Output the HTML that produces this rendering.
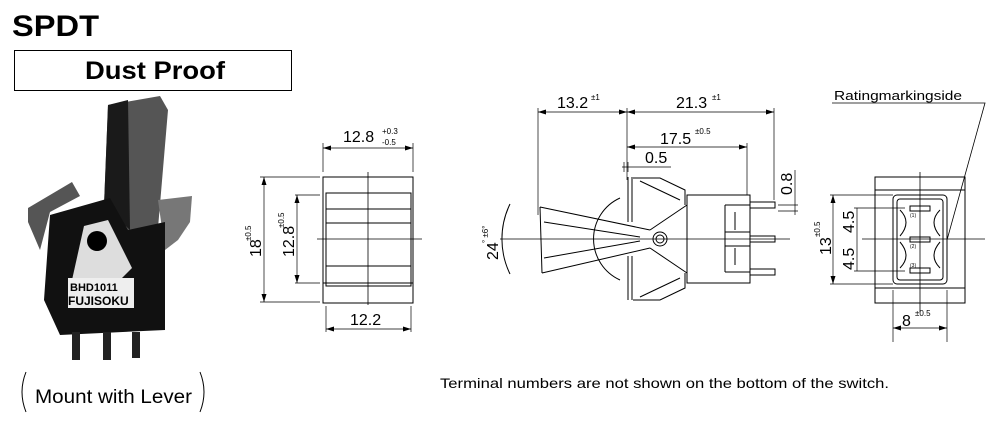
<!DOCTYPE html>
<html><head><meta charset="utf-8"><style>
html,body{margin:0;padding:0;background:#fff;}
svg{display:block;font-family:"Liberation Sans",Arial,sans-serif;}
</style></head><body>
<svg width="994" height="424" viewBox="0 0 994 424" xmlns="http://www.w3.org/2000/svg">
<defs>
<marker id="a" markerWidth="8" markerHeight="6" refX="8" refY="3" orient="auto-start-reverse" markerUnits="userSpaceOnUse"><path d="M0,0.5 L8,3 L0,5.5 z" fill="#000"/></marker>
</defs>
<text x="12" y="36" font-size="30" font-weight="bold" textLength="87" lengthAdjust="spacingAndGlyphs">SPDT</text>
<rect x="14.5" y="50.5" width="277" height="40" fill="none" stroke="#000" stroke-width="1"/>
<text x="85" y="79" font-size="25" font-weight="bold" textLength="140" lengthAdjust="spacingAndGlyphs">Dust Proof</text>

<!-- photo -->
<g>
<polygon points="108,105 160,96 168,110 158,228 128,232 104,206" fill="#555"/>
<polygon points="108,105 128,100 130,230 104,206" fill="#1a1a1a"/>
<polygon points="28,208 72,182 80,196 50,212 40,250 28,222" fill="#555"/>
<polygon points="158,200 192,196 190,222 178,240 165,250" fill="#777"/>
<polygon points="50,215 110,198 128,230 165,222 165,330 60,335 44,300" fill="#111"/>
<polygon points="84,226 108,220 132,268 122,278 72,280" fill="#ddd"/>
<circle cx="97" cy="241" r="10" fill="#000"/>
<rect x="68" y="278" width="66" height="30" fill="#eee"/>
<text x="70" y="291" font-size="11" font-weight="bold">BHD1011</text>
<text x="68" y="305" font-size="12" font-weight="bold">FUJISOKU</text>
<rect x="72" y="332" width="8" height="28" fill="#222"/>
<rect x="103" y="332" width="8" height="28" fill="#222"/>
<rect x="132" y="332" width="8" height="26" fill="#222"/>
</g>
<path d="M26,372 Q18,392 26,412" fill="none" stroke="#000"/>
<path d="M200,372 Q208,392 200,412" fill="none" stroke="#000"/>
<text x="35" y="403" font-size="19" textLength="157" lengthAdjust="spacingAndGlyphs">Mount with Lever</text>

<g stroke="#000" fill="none" stroke-width="1">
<!-- front view -->
<rect x="323" y="177" width="90" height="126"/>
<rect x="326" y="193" width="85" height="93"/>
<line x1="326" y1="209" x2="411" y2="209"/><line x1="326" y1="223" x2="411" y2="223"/>
<line x1="326" y1="266" x2="411" y2="266"/><line x1="323" y1="283" x2="413" y2="283"/>
<line x1="368" y1="172" x2="368" y2="305" stroke-width="0.8"/>
<line x1="317" y1="239" x2="422" y2="239" stroke-width="0.8"/>
<line x1="323" y1="143" x2="323" y2="172" stroke-width="0.7"/><line x1="413" y1="143" x2="413" y2="172" stroke-width="0.7"/>
<line x1="323" y1="148" x2="413" y2="148" stroke-width="0.7" marker-start="url(#a)" marker-end="url(#a)"/>
<line x1="260" y1="177" x2="320" y2="177" stroke-width="0.7"/><line x1="260" y1="302" x2="320" y2="302" stroke-width="0.7"/>
<line x1="264" y1="177" x2="264" y2="302" stroke-width="0.7" marker-start="url(#a)" marker-end="url(#a)"/>
<line x1="295" y1="195" x2="320" y2="195" stroke-width="0.7"/><line x1="295" y1="283" x2="320" y2="283" stroke-width="0.7"/>
<line x1="297" y1="195" x2="297" y2="283" stroke-width="0.7" marker-start="url(#a)" marker-end="url(#a)"/>
<line x1="326" y1="306" x2="326" y2="332" stroke-width="0.7"/><line x1="411" y1="306" x2="411" y2="332" stroke-width="0.7"/>
<line x1="326" y1="329" x2="411" y2="329" stroke-width="0.7" marker-start="url(#a)" marker-end="url(#a)"/>

<!-- side view -->
<line x1="538" y1="108" x2="538" y2="215" stroke-width="0.7"/>
<line x1="627" y1="108" x2="627" y2="180" stroke-width="0.7"/>
<line x1="747" y1="143" x2="747" y2="195" stroke-width="0.7"/>
<line x1="774" y1="108" x2="774" y2="200" stroke-width="0.7"/>
<line x1="538" y1="112" x2="627" y2="112" stroke-width="0.7" marker-start="url(#a)" marker-end="url(#a)"/>
<line x1="627" y1="112" x2="774" y2="112" stroke-width="0.7" marker-start="url(#a)" marker-end="url(#a)"/>
<line x1="627" y1="147" x2="747" y2="147" stroke-width="0.7" marker-start="url(#a)" marker-end="url(#a)"/>
<line x1="622" y1="167" x2="671" y2="167" stroke-width="0.7"/>
<line x1="624" y1="162" x2="624" y2="172" stroke-width="0.7"/><line x1="628" y1="162" x2="628" y2="172" stroke-width="0.7"/>
<line x1="778" y1="205" x2="798" y2="205" stroke-width="0.7"/><line x1="778" y1="211" x2="798" y2="211" stroke-width="0.7"/>
<line x1="795" y1="170" x2="795" y2="215" stroke-width="0.7"/>
<!-- bracket -->
<path d="M628,177 L628,222 M632,177 L632,222 M628,256 L628,300 M632,256 L632,300"/>
<path d="M633,178 L660,178 L685,190 L685,205 M640,181 L680,200"/>
<path d="M633,300 L660,300 L685,288 L685,273 M640,297 L680,278"/>
<!-- body -->
<rect x="687" y="195" width="63" height="88"/>
<path d="M725,205 L750,205 M725,272 L750,272 M725,205 L725,272 M735,212 L735,230 M735,248 L735,265 M725,232 L750,232 M725,246 L750,246"/>
<path d="M750,202 L775,202 L775,208 L750,208 M750,236 L775,236 L775,242 L750,242 M750,269 L775,269 L775,275 L750,275"/>
<!-- disc -->
<path d="M620,198 A45,45 0 0 0 620,280"/>
<path d="M650,230 L687,205 M650,248 L687,273"/>
<!-- lever -->
<path d="M540,207 L542,273 M540,207 L650,230 M542,273 L650,248 M544,222 L640,237 M544,258 L640,241"/>
<circle cx="660" cy="239" r="7"/><circle cx="660" cy="239" r="4"/>
<path d="M510,204 A80,80 0 0 0 510,274"/>
<line x1="500" y1="239" x2="790" y2="239" stroke-width="0.7"/>

<!-- right view -->
<rect x="875" y="177" width="90" height="126"/>
<line x1="875" y1="190" x2="965" y2="190"/><line x1="875" y1="288" x2="965" y2="288"/>
<rect x="893" y="195" width="54" height="89" rx="4"/>
<rect x="897" y="199" width="46" height="81" rx="3"/>
<rect x="910" y="206" width="20" height="5"/><rect x="910" y="237" width="20" height="5"/><rect x="910" y="268" width="20" height="5"/>
<path d="M900,210 Q912,222 900,236 M900,242 Q912,256 900,268 M940,210 Q928,222 940,236 M940,242 Q928,256 940,268"/>
<line x1="920" y1="172" x2="920" y2="312" stroke-width="0.8"/>
<line x1="862" y1="239" x2="985" y2="239" stroke-width="0.8"/>
<line x1="830" y1="195" x2="893" y2="195" stroke-width="0.7"/><line x1="830" y1="284" x2="893" y2="284" stroke-width="0.7"/>
<line x1="833" y1="195" x2="833" y2="284" stroke-width="0.7" marker-start="url(#a)" marker-end="url(#a)"/>
<line x1="854" y1="208" x2="905" y2="208" stroke-width="0.7"/><line x1="854" y1="271" x2="905" y2="271" stroke-width="0.7"/>
<line x1="857" y1="208" x2="857" y2="271" stroke-width="0.7"/>
<line x1="893" y1="290" x2="893" y2="342" stroke-width="0.7"/><line x1="947" y1="290" x2="947" y2="342" stroke-width="0.7"/>
<line x1="893" y1="328" x2="947" y2="328" stroke-width="0.7" marker-start="url(#a)" marker-end="url(#a)"/>
<path d="M832,103 L985,103 L947,240" stroke-width="0.8"/>
</g>

<g font-size="16">
<text x="343" y="142">12.8</text><text x="382" y="134" font-size="8">+0.3</text><text x="382" y="145" font-size="8">-0.5</text>
<text x="350" y="325">12.2</text>
<text transform="translate(261,257) rotate(-90)">18</text><text transform="translate(251,241) rotate(-90)" font-size="8">±0.5</text>
<text transform="translate(294,257) rotate(-90)">12.8</text><text transform="translate(284,228) rotate(-90)" font-size="8">±0.5</text>
<text x="557" y="108">13.2</text><text x="591" y="100" font-size="8">±1</text>
<text x="676" y="108">21.3</text><text x="712" y="100" font-size="8">±1</text>
<text x="660" y="144">17.5</text><text x="695" y="134" font-size="8">±0.5</text>
<text x="645" y="163">0.5</text>
<text transform="translate(792,195) rotate(-90)">0.8</text>
<text transform="translate(498,260) rotate(-90)">24</text><text transform="translate(488,243) rotate(-90)" font-size="8">° ±6°</text>
<text transform="translate(831,255) rotate(-90)">13</text><text transform="translate(820,237) rotate(-90)" font-size="8">±0.5</text>
<text transform="translate(854,233) rotate(-90)">4.5</text>
<text transform="translate(854,270) rotate(-90)">4.5</text>
<text x="902" y="326">8</text><text x="915" y="316" font-size="8">±0.5</text>
<text x="834" y="100" font-size="13" textLength="128" lengthAdjust="spacingAndGlyphs">Ratingmarkingside</text>
<text x="440" y="388" font-size="14" textLength="449" lengthAdjust="spacingAndGlyphs">Terminal numbers are not shown on the bottom of the switch.</text>
</g>
<g font-size="5"><text x="910" y="217">(1)</text><text x="910" y="248">(2)</text><text x="910" y="267">(3)</text></g>
</svg>
</body></html>
